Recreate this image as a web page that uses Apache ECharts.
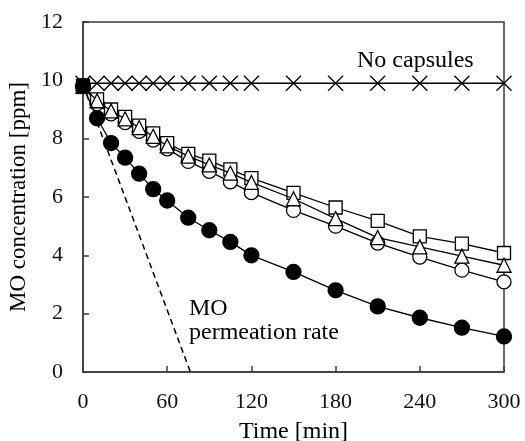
<!DOCTYPE html>
<html>
<head>
<meta charset="utf-8">
<script src="https://cdn.jsdelivr.net/npm/echarts@6/dist/echarts.min.js"></script>
<style>
  html, body { margin: 0; padding: 0; background: #fff; }
  #chart { width: 525px; height: 441px; }
</style>
</head>
<body>
<div id="chart"></div>
<script>
// sampling times [min]
const times = [0, 10, 20, 30, 40, 50, 60, 75, 90, 105, 120, 150, 180, 210, 240, 270, 300];

// MO concentration [ppm]
const noCapsules = [9.9, 9.9, 9.9, 9.9, 9.9, 9.9, 9.9, 9.9, 9.9, 9.9, 9.9, 9.9, 9.9, 9.9, 9.9, 9.9, 9.9];
const squares = [9.8, 9.35, 9.0, 8.75, 8.45, 8.18, 7.85, 7.48, 7.25, 6.95, 6.65, 6.14, 5.64, 5.18, 4.65, 4.4, 4.08];
const triangles = [9.8, 9.3, 8.95, 8.68, 8.38, 8.08, 7.75, 7.4, 7.1, 6.82, 6.5, 5.94, 5.26, 4.61, 4.29, 3.97, 3.66];
const openCircles = [9.8, 9.2, 8.85, 8.55, 8.25, 7.95, 7.65, 7.22, 6.88, 6.52, 6.15, 5.54, 5.0, 4.42, 3.94, 3.49, 3.09];
const filledCircles = [9.8, 8.7, 7.85, 7.35, 6.8, 6.27, 5.88, 5.29, 4.86, 4.46, 4.0, 3.43, 2.8, 2.25, 1.86, 1.52, 1.22];

// dashed MO permeation-rate line
const rateTimes = [0, 76.5];
const rateValues = [9.85, 0];

// axis ticks
const xTicks = [0, 60, 120, 180, 240, 300];
const yTicks = [0, 2, 4, 6, 8, 10, 12];

const pair = (xs, ys) => xs.map((x, i) => [x, ys[i]]);

const font = "'Liberation Serif', 'Times New Roman', serif";
const axisColor = "#3c3c3c";

const chart = echarts.init(document.getElementById("chart"));

function markerSeries(name, data, symbol, size, z, fill) {
  return {
    name: name,
    type: "line",
    data: data,
    symbol: symbol,
    symbolSize: size,
    showAllSymbol: true,
    z: z,
    lineStyle: { color: "#000", width: 1.3 },
    itemStyle: { color: fill, borderColor: "#000", borderWidth: 1.3 },
    emphasis: { disabled: true },
  };
}

const option = {
  animation: false,
  grid: {
    left: 83, right: 21, top: 22, bottom: 69,
    outerBoundsMode: "none",
    containLabel: false,
    show: true, borderColor: axisColor, borderWidth: 1.5,
  },
  xAxis: {
    type: "value",
    min: xTicks[0],
    max: xTicks[xTicks.length - 1],
    interval: xTicks[1] - xTicks[0],
    name: "Time [min]",
    nameLocation: "middle",
    nameGap: 48,
    nameTextStyle: { fontFamily: font, fontSize: 24, color: "#000" },
    axisLine: { lineStyle: { color: axisColor, width: 1.5 } },
    axisTick: { inside: true, length: 6, lineStyle: { color: axisColor, width: 1.5 } },
    axisLabel: { margin: 19, fontFamily: font, fontSize: 22, color: "#111" },
    splitLine: { show: false },
  },
  yAxis: {
    type: "value",
    min: yTicks[0],
    max: yTicks[yTicks.length - 1],
    interval: yTicks[1] - yTicks[0],
    name: "MO concentration [ppm]",
    nameLocation: "middle",
    nameGap: 50,
    nameTextStyle: { fontFamily: font, fontSize: 23, color: "#000" },
    axisLine: { lineStyle: { color: axisColor, width: 1.5 } },
    axisTick: { inside: true, length: 6, lineStyle: { color: axisColor, width: 1.5 } },
    axisLabel: { margin: 20, fontFamily: font, fontSize: 22, color: "#111" },
    splitLine: { show: false },
  },
  series: [
    {
      name: "rate",
      type: "line",
      data: pair(rateTimes, rateValues),
      symbol: "none",
      z: 1,
      lineStyle: { color: "#000", width: 1.5, type: [6, 4] },
      emphasis: { disabled: true },
    },
    markerSeries("noCapsules", pair(times, noCapsules), "path://M0,0L10,10M0,10L10,0", 15, 2, "none"),
    markerSeries("openCircles", pair(times, openCircles), "circle", 14, 3, "#fff"),
    markerSeries("squares", pair(times, squares), "rect", 13, 4, "#fff"),
    markerSeries("triangles", pair(times, triangles), "triangle", 14, 5, "#fff"),
    markerSeries("filledCircles", pair(times, filledCircles), "circle", 15, 6, "#000"),
    {
      name: "start",
      type: "scatter",
      data: [[times[0], filledCircles[0]]],
      symbol: "rect",
      symbolSize: [13, 16],
      z: 7,
      itemStyle: { color: "#000" },
      emphasis: { disabled: true },
    },
  ],
  graphic: [
    {
      type: "text", left: 357, top: 49,
      style: { text: "No capsules", font: "24px " + font, fill: "#000" },
    },
    {
      type: "text", left: 189, top: 297,
      style: { text: "MO", font: "24px " + font, fill: "#000" },
    },
    {
      type: "text", left: 189, top: 321,
      style: { text: "permeation rate", font: "24px " + font, fill: "#000" },
    },
  ],
};

chart.setOption(option);
</script>
</body>
</html>
